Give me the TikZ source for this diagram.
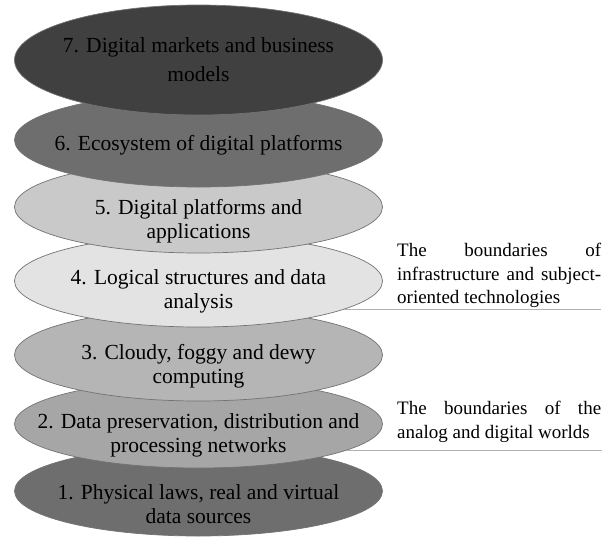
\documentclass[tikz,border=0pt]{standalone}
\usepackage{fontspec}
\setmainfont{Liberation Serif}
\usetikzlibrary{shapes.geometric}

\begin{document}
\begin{tikzpicture}[x=1pt,y=-1pt,
	layer/.style={ellipse,draw=black!55,line width=0.7pt,minimum width=368pt,inner sep=0pt},
	laytext/.style={align=center,inner sep=0pt,font=\fontsize{21.5}{24}\selectfont},
	note/.style={anchor=north west,inner sep=0pt,text width=204pt,align=justify,font=\fontsize{19}{23.5}\selectfont},
	border/.style={draw=black!30,line width=1.2pt}]
	\useasboundingbox (0,0) rectangle (611,536);
	% layers from the bottom up, each one lying over the one below
	\foreach \n/\y/\h/\g/\d/\t in {
		1/491/90/57/13/{1. Physical laws, real and virtual\\data sources},
		2/424/88/35/11/{2. Data preservation, distribution and\\processing networks},
		3/355/92/29/11/{3. Cloudy, foggy and dewy\\computing},
		4/281/92/11/10/{4. Logical structures and data\\analysis},
		5/207/92/21/14/{5. Digital platforms and\\applications},
		6/140/94/57/5/{6. Ecosystem of digital platforms},
		7/60/110/75/0/{7. Digital markets and business\\[5pt]models}}
	{
		\node[layer,minimum height=\h pt,fill=black!\g] (e\n) at (198.5,\y) {};
		\node[laytext,yshift=-\d pt] (t\n) at (e\n) {\t};
	}
	% the two boundaries on the right
	\node[note] (n1) at (397,243) {The boundaries of\linebreak infrastructure and subject-\linebreak oriented technologies};
	\coordinate (r1) at (601,309);
	\draw[border] (e4.-11) -- (e4.-11 -| r1);
	\node[note] (n2) at (397,401) {The boundaries of the\linebreak analog and digital worlds};
	\coordinate (r2) at (602,450);
	\draw[border] (e2.-10) -- (e2.-10 -| r2);
\end{tikzpicture}
\end{document}
